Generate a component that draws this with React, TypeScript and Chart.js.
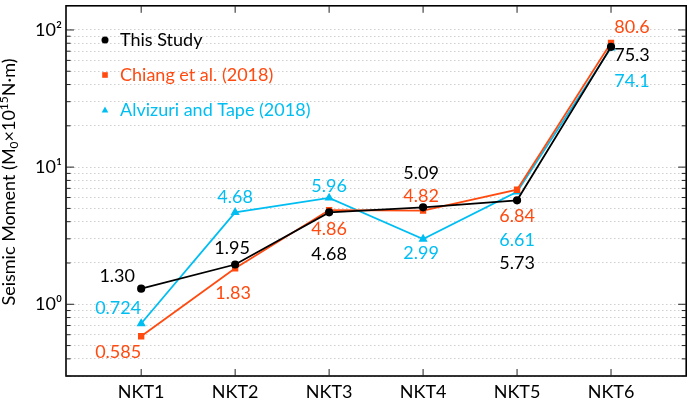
import React, { useEffect, useRef } from "react";
import { Chart, registerables } from "chart.js";
Chart.register(...registerables);

const categories = ["NKT1", "NKT2", "NKT3", "NKT4", "NKT5", "NKT6"];
const thisStudy = [1.3, 1.95, 4.68, 5.09, 5.73, 75.3];
const chiang = [0.585, 1.83, 4.86, 4.82, 6.84, 80.6];
const alvizuri = [0.724, 4.68, 5.96, 2.99, 6.61, 74.1];
const seriesNames = ["This Study", "Chiang et al. (2018)", "Alvizuri and Tape (2018)"];
const yTickValues = [0.3, 0.4, 0.5, 0.6, 0.7, 0.8, 0.9, 1, 2, 3, 4, 5, 6, 7, 8, 9, 10, 20, 30, 40, 50, 60, 70, 80, 90, 100];
const decadeLabels: Record<number, string> = { 1: "10\u2070", 10: "10\u00B9", 100: "10\u00B2" };

// label offsets (pixels) relative to each point
const labelOffsets = [
  [[-24, -12], [-3, -16], [0, 42], [-2, -34], [0, 63], [21, 8]],
  [[-23, 16], [-2, 25], [0, 19], [-2, -14], [0, 26], [21, -16]],
  [[-23, -15], [0, -15], [0, -12], [-2, 14], [0, 48], [21, 33]],
];

const COLORS = ["#000000", "#FF4A10", "#00BEF2"];
const STYLES = ["circle", "rect", "triangle"];
const FONT = "Lato";

function drawMarker(ctx: CanvasRenderingContext2D, style: string, x: number, y: number, color: string) {
  ctx.save();
  ctx.fillStyle = color;
  ctx.beginPath();
  if (style === "circle") {
    ctx.arc(x, y, 3.5, 0, Math.PI * 2);
  } else if (style === "rect") {
    ctx.rect(x - 2.8, y - 2.8, 5.6, 5.6);
  } else {
    ctx.moveTo(x, y - 3.5);
    ctx.lineTo(x + 3.3, y + 2.5);
    ctx.lineTo(x - 3.3, y + 2.5);
    ctx.closePath();
  }
  ctx.fill();
  ctx.restore();
}

const customPlugin = {
  id: "custom",
  afterDatasetsDraw(chart: any) {
    const ctx = chart.ctx as CanvasRenderingContext2D;
    const area = chart.chartArea;
    const xs = chart.scales.x;
    const ys = chart.scales.y;
    // frame
    ctx.save();
    ctx.strokeStyle = "#000";
    ctx.lineWidth = 1.6;
    ctx.strokeRect(area.left, area.top, area.right - area.left, area.bottom - area.top);
    // y ticks inward both sides
    ctx.lineWidth = 1;
    ctx.strokeStyle = "#222";
    yTickValues.forEach((v) => {
      const y = ys.getPixelForValue(v);
      const major = decadeLabels[v] !== undefined;
      const len = major ? 8 : 4.5;
      ctx.beginPath();
      ctx.moveTo(area.left, y);
      ctx.lineTo(area.left + len, y);
      ctx.moveTo(area.right, y);
      ctx.lineTo(area.right - len, y);
      ctx.stroke();
    });
    categories.forEach((_, i) => {
      const x = xs.getPixelForValue(i + 1);
      ctx.beginPath();
      ctx.moveTo(x, area.top);
      ctx.lineTo(x, area.top + 7);
      ctx.moveTo(x, area.bottom);
      ctx.lineTo(x, area.bottom - 7);
      ctx.stroke();
    });
    ctx.restore();

    // data labels
    ctx.save();
    ctx.font = `18px ${FONT}`;
    ctx.textAlign = "center";
    ctx.textBaseline = "middle";
    chart.data.datasets.forEach((ds: any, di: number) => {
      const meta = chart.getDatasetMeta(di);
      meta.data.forEach((pt: any, i: number) => {
        const v = ds.data[i].y as number;
        const [dx, dy] = labelOffsets[di][i];
        ctx.fillStyle = COLORS[di];
        ctx.fillText(v.toPrecision(3), pt.x + dx, pt.y + dy);
      });
    });
    ctx.restore();

    // legend
    ctx.save();
    ctx.font = `18px ${FONT}`;
    ctx.textAlign = "left";
    ctx.textBaseline = "middle";
    chart.data.datasets.forEach((ds: any, di: number) => {
      const y = 40 + di * 35;
      drawMarker(ctx, STYLES[di], area.left + 39, y, COLORS[di]);
      ctx.fillStyle = COLORS[di];
      ctx.fillText(ds.label, area.left + 54, y);
    });
    ctx.restore();

    // y axis title with sub/superscript
    ctx.save();
    ctx.translate(15, 182);
    ctx.rotate(-Math.PI / 2);
    ctx.fillStyle = "#000";
    ctx.textBaseline = "alphabetic";
    ctx.textAlign = "left";
    const parts: [string, number, number][] = [
      ["Seismic Moment (M", 18, 0],
      ["0", 12, 3],
      ["\u00D710", 18, 0],
      ["15", 12, -7],
      ["N\u00B7m)", 18, 0],
    ];
    let total = 0;
    parts.forEach(([t, s]) => {
      ctx.font = `${s}px ${FONT}`;
      total += ctx.measureText(t).width;
    });
    let x = -total / 2;
    parts.forEach(([t, s, dy]) => {
      ctx.font = `${s}px ${FONT}`;
      ctx.fillText(t, x, dy);
      x += ctx.measureText(t).width;
    });
    ctx.restore();
  },
};

export default function App() {
  const ref = useRef<HTMLCanvasElement>(null);
  useEffect(() => {
    document.body.style.margin = "0";
    const series = [thisStudy, chiang, alvizuri];
    const chart = new Chart(ref.current as HTMLCanvasElement, {
      type: "line",
      data: {
        datasets: series.map((vals, di) => ({
          label: seriesNames[di],
          data: vals.map((v, i) => ({ x: i + 1, y: v })),
          borderColor: COLORS[di],
          backgroundColor: COLORS[di],
          pointBackgroundColor: COLORS[di],
          pointBorderColor: COLORS[di],
          pointStyle: STYLES[di] as any,
          pointRadius: di === 2 ? 3.5 : 3.2,
          borderWidth: 1.8,
          tension: 0,
          fill: false,
        })),
      },
      options: {
        animation: false,
        responsive: false,
        devicePixelRatio: 1,
        layout: { padding: { top: 1, right: 3, left: 0, bottom: 0 } },
        plugins: { legend: { display: false }, tooltip: { enabled: false } },
        scales: {
          x: {
            type: "linear",
            min: 0.2,
            max: 6.8,
            grid: { display: false, drawTicks: false },
            border: { display: false },
            afterBuildTicks: (scale: any) => {
              scale.ticks = categories.map((_, i) => ({ value: i + 1 }));
            },
            afterFit: (scale: any) => {
              scale.height = 25;
              scale.paddingLeft = 0;
              scale.paddingRight = 0;
              scale.paddingTop = 0;
              scale.paddingBottom = 0;
            },
            ticks: {
              padding: 5,
              color: "#000",
              font: { family: FONT, size: 18 },
              maxRotation: 0,
              autoSkip: false,
              callback: (v: any) => categories[Math.round(Number(v)) - 1] ?? "",
            },
          },
          y: {
            type: "logarithmic",
            min: 0.3,
            max: 150,
            grid: {
              drawTicks: false,
              color: "#cfcfcf",
              lineWidth: 1,
            },
            border: { display: false, dash: [1.5, 2.5] },
            afterBuildTicks: (scale: any) => {
              scale.ticks = yTickValues.map((v) => ({ value: v, major: decadeLabels[v] !== undefined }));
            },
            afterFit: (scale: any) => {
              scale.width = 66;
              scale.paddingLeft = 0;
              scale.paddingRight = 0;
              scale.paddingTop = 0;
              scale.paddingBottom = 0;
            },
            ticks: {
              padding: 4,
              color: "#000",
              font: { family: FONT, size: 18 },
              autoSkip: false,
              callback: (v: any) => decadeLabels[Number(v)] ?? "",
            },
          },
        },
      } as any,
      plugins: [customPlugin],
    });
    return () => chart.destroy();
  }, []);
  return <canvas ref={ref} width={692} height={401} style={{ display: "block" }} />;
}
